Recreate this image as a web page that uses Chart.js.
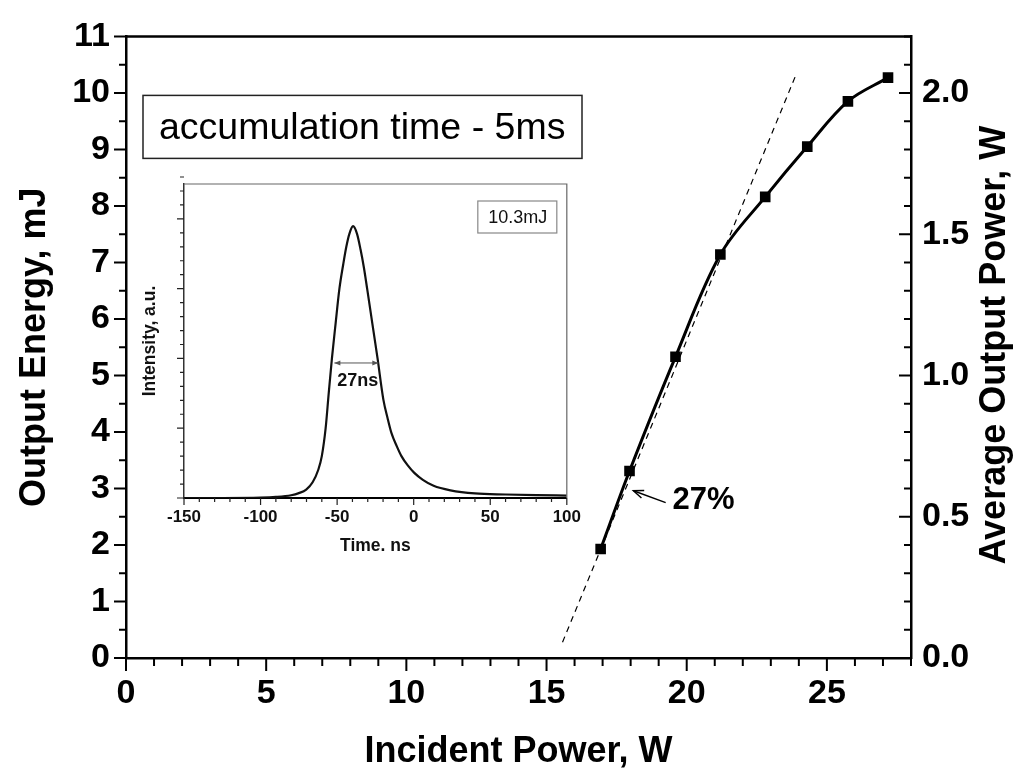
<!DOCTYPE html>
<html><head><meta charset="utf-8">
<script src="https://cdn.jsdelivr.net/npm/chart.js@4"></script>
<style>
html,body{margin:0;padding:0;background:#fff;}
#wrap{position:relative;width:1018px;height:774px;overflow:hidden;}
#main{position:absolute;left:0;top:0;}
#inset{position:absolute;left:130px;top:170px;}
</style></head><body>
<div id="wrap"><canvas id="main" width="1018" height="774"></canvas><canvas id="inset" width="460" height="400"></canvas></div>
<script>
// ---- main chart data ----
const incidentPower = [16.93, 17.96, 19.6, 21.2, 22.8, 24.3, 25.75, 27.18];
const outputEnergy  = [1.93, 3.31, 5.33, 7.14, 8.16, 9.05, 9.85, 10.27];
const fitPower  = [15.57, 23.93];
const fitEnergy = [0.28, 10.36];
const slopeLabel = '27%';
const boxLabel = 'accumulation time - 5ms';
// ---- inset pulse data ----
const pulseTime = [-150, -125, -100, -90, -80, -75, -70.2, -66, -62.3, -60, -57.5, -55.5, -53.4, -51, -48.5, -46, -44, -42, -39.6, -37, -34.7, -32.5, -30.4, -27, -23.6, -19.8, -17, -14.5, -11, -8, -4, 0.4, 6, 13, 24, 40, 60, 80, 100];
const pulseIntensity = [0.000, 0.000, 0.001, 0.003, 0.008, 0.014, 0.024, 0.045, 0.081, 0.12, 0.2, 0.3, 0.4, 0.5, 0.6, 0.67, 0.72, 0.757, 0.779, 0.757, 0.712, 0.66, 0.6, 0.5, 0.4, 0.282, 0.228, 0.186, 0.148, 0.12, 0.094, 0.072, 0.052, 0.035, 0.022, 0.013, 0.01, 0.008, 0.007];
const pulseWidthLabel = '27ns';
const energyLabel = '10.3mJ';

const FONT = "'Liberation Sans', Arial, Helvetica, sans-serif";

function ticksAlong(ctx, scale, min, max, minor, major, horiz, base, dir, lMaj, lMin) {
  const n = Math.round((max - min) / minor);
  ctx.beginPath();
  for (let i = 0; i <= n; i++) {
    const v = min + i * minor;
    const r = v / major;
    const isMaj = Math.abs(r - Math.round(r)) < 1e-6;
    const len = isMaj ? lMaj : lMin;
    const p = scale.getPixelForValue(v);
    if (horiz) { ctx.moveTo(p, base); ctx.lineTo(p, base + dir * len); }
    else { ctx.moveTo(base, p); ctx.lineTo(base + dir * len, p); }
  }
  ctx.stroke();
}

function arrowHead(ctx, x1, y1, x2, y2, len, half, filled) {
  const a = Math.atan2(y2 - y1, x2 - x1);
  const bx = x2 - len * Math.cos(a), by = y2 - len * Math.sin(a);
  const px = -Math.sin(a) * half, py = Math.cos(a) * half;
  ctx.beginPath();
  ctx.moveTo(bx + px, by + py); ctx.lineTo(x2, y2); ctx.lineTo(bx - px, by - py);
  if (filled) { ctx.closePath(); ctx.fill(); } else ctx.stroke();
}

const mainDecor = {
  id: 'mainDecor',
  afterDraw(chart) {
    const {ctx, chartArea: ca, scales} = chart;
    ctx.save();
    ctx.strokeStyle = '#000'; ctx.fillStyle = '#000';
    ctx.lineWidth = 2.5;
    ctx.beginPath(); ctx.moveTo(ca.left - 1, ca.top); ctx.lineTo(ca.right + 1, ca.top); ctx.stroke();
    ctx.lineWidth = 2;
    ticksAlong(ctx, scales.x, 0, 28, 1, 5, true, ca.bottom, 1, 13, 8);
    ticksAlong(ctx, scales.y, 0, 11, 0.5, 1, false, ca.left, -1, 12, 7);
    ticksAlong(ctx, scales.y2, 0, 2.2, 0.1, 0.5, false, ca.right, -1, 12, 7);
    // right axis title
    ctx.save();
    ctx.translate(995, (ca.top + ca.bottom) / 2 - 2);
    ctx.rotate(-Math.PI / 2);
    ctx.font = 'bold 36px ' + FONT;
    ctx.textAlign = 'center'; ctx.textBaseline = 'middle';
    ctx.fillText('Average Output Power, W', 0, 0);
    ctx.restore();
    // accumulation box
    const bx = ca.left + 17, by = ca.top + 59, bw = 439, bh = 63;
    ctx.lineWidth = 1.5; ctx.strokeStyle = '#222';
    ctx.strokeRect(bx, by, bw, bh);
    ctx.font = '37.5px ' + FONT;
    ctx.textAlign = 'left'; ctx.textBaseline = 'alphabetic';
    ctx.fillText(boxLabel, bx + 16, by + 44);
    // 27% label and arrow
    const sx = scales.x, sy = scales.y;
    ctx.font = 'bold 31px ' + FONT;
    ctx.textAlign = 'center'; ctx.textBaseline = 'middle';
    ctx.fillText(slopeLabel, sx.getPixelForValue(20.6), sy.getPixelForValue(2.78));
    const tx = sx.getPixelForValue(19.25), ty = sy.getPixelForValue(2.75);
    const hx = sx.getPixelForValue(18.1), hy = sy.getPixelForValue(2.96);
    ctx.lineWidth = 1.5; ctx.strokeStyle = '#000';
    ctx.beginPath(); ctx.moveTo(tx, ty); ctx.lineTo(hx, hy); ctx.stroke();
    arrowHead(ctx, tx, ty, hx, hy, 10, 4, false);
    ctx.restore();
  }
};

new Chart(document.getElementById('main'), {
  type: 'scatter',
  data: {
    datasets: [
      { data: fitPower.map((x, i) => ({x, y: fitEnergy[i]})), showLine: true, borderColor: '#000', borderWidth: 1.2, borderDash: [6, 5], pointRadius: 0, yAxisID: 'y' },
      { data: incidentPower.map((x, i) => ({x, y: outputEnergy[i]})), showLine: true, borderColor: '#000', backgroundColor: '#000', borderWidth: 3, pointStyle: 'rect', pointRadius: 7.5, pointBorderWidth: 0, tension: 0.35, yAxisID: 'y' }
    ]
  },
  options: {
    responsive: false, animation: false, events: [],
    layout: {padding: {top: 26, left: 0, right: 0, bottom: 0}},
    plugins: {legend: {display: false}, tooltip: {enabled: false}},
    scales: {
      x: {
        type: 'linear', position: 'bottom', min: 0, max: 28,
        grid: {display: false, drawTicks: false},
        border: {display: true, color: '#000', width: 2.5},
        ticks: {stepSize: 5, includeBounds: false, color: '#000', padding: 15, font: {family: FONT, size: 34, weight: 'bold'}},
        title: {display: true, text: 'Incident Power, W', color: '#000', padding: {top: 0, bottom: 0}, font: {family: FONT, size: 36, weight: 'bold'}},
        afterFit(s) { s.height = 116; }
      },
      y: {
        type: 'linear', position: 'left', min: 0, max: 11,
        grid: {display: false, drawTicks: false},
        border: {display: true, color: '#000', width: 2.5},
        ticks: {stepSize: 1, color: '#000', padding: 16, font: {family: FONT, size: 34, weight: 'bold'}},
        title: {display: true, text: 'Output Energy, mJ', color: '#000', padding: {top: 13, bottom: 0}, font: {family: FONT, size: 36, weight: 'bold'}},
        afterFit(s) { s.width = 126; }
      },
      y2: {
        type: 'linear', position: 'right', min: 0, max: 2.2,
        grid: {display: false, drawTicks: false},
        border: {display: true, color: '#000', width: 2.5},
        ticks: {stepSize: 0.5, includeBounds: false, color: '#000', padding: 11, font: {family: FONT, size: 34, weight: 'bold'}, callback: v => Number(v).toFixed(1)},
        afterFit(s) { s.width = 107; }
      }
    }
  },
  plugins: [mainDecor]
});

const insetDecor = {
  id: 'insetDecor',
  beforeDraw(chart) {
    const {ctx, chartArea: ca} = chart;
    ctx.save(); ctx.fillStyle = '#fff';
    ctx.fillRect(ca.left, ca.top, ca.right - ca.left, ca.bottom - ca.top);
    ctx.restore();
  },
  afterDraw(chart) {
    const {ctx, chartArea: ca, scales} = chart;
    ctx.save();
    ctx.strokeStyle = '#666'; ctx.lineWidth = 1.2;
    ctx.beginPath(); ctx.moveTo(ca.left, ca.top); ctx.lineTo(ca.right, ca.top); ctx.lineTo(ca.right, ca.bottom); ctx.stroke();
    ctx.strokeStyle = '#222'; ctx.lineWidth = 1.2;
    ticksAlong(ctx, scales.x, -150, 100, 10, 50, true, ca.bottom, 1, 7, 4);
    ticksAlong(ctx, scales.y, 0, 0.9, 0.04, 0.2, false, ca.left, -1, 7, 4);
    // energy box
    const bx = ca.right - 89, by = ca.top + 17;
    ctx.strokeStyle = '#888'; ctx.lineWidth = 1.2;
    ctx.strokeRect(bx, by, 79, 32);
    ctx.fillStyle = '#111';
    ctx.font = '18px ' + FONT; ctx.textAlign = 'center'; ctx.textBaseline = 'alphabetic';
    ctx.fillText(energyLabel, bx + 40, by + 22);
    // FWHM arrow
    const sx = scales.x, sy = scales.y;
    const x1 = sx.getPixelForValue(-51.8), x2 = sx.getPixelForValue(-23.1), ya = sy.getPixelForValue(0.387);
    ctx.strokeStyle = '#555'; ctx.fillStyle = '#555'; ctx.lineWidth = 1;
    ctx.beginPath(); ctx.moveTo(x1, ya); ctx.lineTo(x2, ya); ctx.stroke();
    arrowHead(ctx, x2, ya, x1, ya, 6, 2.5, true);
    arrowHead(ctx, x1, ya, x2, ya, 6, 2.5, true);
    ctx.fillStyle = '#111';
    ctx.font = 'bold 18px ' + FONT; ctx.textAlign = 'center'; ctx.textBaseline = 'middle';
    ctx.fillText(pulseWidthLabel, sx.getPixelForValue(-36.5), sy.getPixelForValue(0.334));
    ctx.restore();
  }
};

new Chart(document.getElementById('inset'), {
  type: 'scatter',
  data: {
    datasets: [
      { data: pulseTime.map((x, i) => ({x, y: pulseIntensity[i]})), showLine: true, borderColor: '#111', borderWidth: 2.2, pointRadius: 0, cubicInterpolationMode: 'monotone' }
    ]
  },
  options: {
    responsive: false, animation: false, events: [],
    layout: {padding: {top: 14, right: 14, left: 0, bottom: 0}},
    plugins: {legend: {display: false}, tooltip: {enabled: false}},
    scales: {
      x: {
        type: 'linear', position: 'bottom', min: -150, max: 100,
        grid: {display: false, drawTicks: false},
        border: {display: true, color: '#000', width: 2},
        ticks: {stepSize: 50, color: '#111', padding: 9, font: {family: FONT, size: 17, weight: 'bold'}},
        title: {display: true, text: 'Time. ns', color: '#111', padding: {top: 0, bottom: 13}, font: {family: FONT, size: 17.5, weight: 'bold'}},
        afterFit(s) { s.height = 72; }
      },
      y: {
        type: 'linear', position: 'left', min: 0, max: 0.9,
        grid: {display: false, drawTicks: false},
        border: {display: true, color: '#333', width: 1.5},
        ticks: {display: false, stepSize: 0.2},
        title: {display: true, text: 'Intensity, a.u.', color: '#111', padding: {top: 10, bottom: 0}, font: {family: FONT, size: 17.5, weight: 'bold'}},
        afterFit(s) { s.width = 54; }
      }
    }
  },
  plugins: [insetDecor]
});
</script>
</body></html>
